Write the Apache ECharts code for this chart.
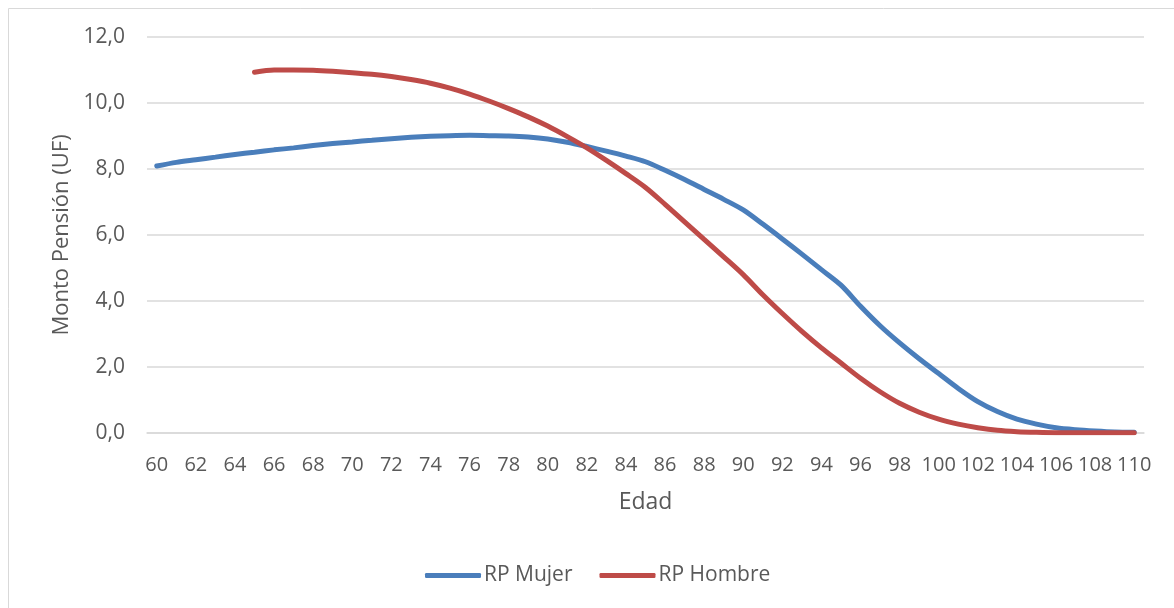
<!DOCTYPE html>
<html>
<head>
<meta charset="utf-8">
<script src="https://cdn.jsdelivr.net/npm/echarts@6/dist/echarts.min.js"></script>
<style>
  html, body { margin: 0; padding: 0; background: #fff; }
  #chart { width: 1174px; height: 608px; }
</style>
</head>
<body>
<div id="chart"></div>
<script>
// edades 60..110
var edades = [];
for (var e = 60; e <= 110; e++) edades.push(String(e));

var rpMujer = [
  8.09, 8.20, 8.28, 8.36, 8.44, 8.51, 8.58, 8.64, 8.71, 8.77,
  8.82, 8.87, 8.92, 8.96, 8.99, 9.01, 9.02, 9.01, 9.00, 8.97,
  8.91, 8.81, 8.68, 8.54, 8.39, 8.22, 7.96, 7.68, 7.38, 7.08,
  6.76, 6.33, 5.88, 5.42, 4.95, 4.48, 3.84, 3.25, 2.73, 2.25,
  1.80, 1.35, 0.95, 0.65, 0.42, 0.27, 0.16, 0.10, 0.06, 0.03,
  0.02
];

var rpHombre = [
  null, null, null, null, null, 10.93, 11.00, 11.00, 10.99, 10.96,
  10.92, 10.87, 10.80, 10.71, 10.60, 10.45, 10.27, 10.06, 9.83, 9.58,
  9.30, 8.98, 8.64, 8.26, 7.86, 7.44, 6.93, 6.40, 5.87, 5.34,
  4.80, 4.19, 3.62, 3.08, 2.58, 2.12, 1.66, 1.25, 0.90, 0.63,
  0.42, 0.27, 0.16, 0.08, 0.04, 0.02, 0.01, 0.01, 0.01, 0.01,
  0.01
];

var chart = echarts.init(document.getElementById('chart'));
var fuente = '"Open Sans", sans-serif';
var gris = '#595959';

var option = {
  animation: false,
  textStyle: { fontFamily: fuente },
  graphic: [{
    type: 'rect',
    shape: { x: 8.5, y: 8.5, width: 1180, height: 620 },
    style: { fill: 'none', stroke: '#d9d9d9', lineWidth: 1 },
    silent: true
  }],
  grid: { left: 147, right: 30, top: 37, bottom: 175 },
  legend: {
    bottom: 17,
    left: 420,
    itemWidth: 56,
    itemHeight: 5,
    itemGap: 27,
    icon: 'roundRect',
    textStyle: { color: gris, fontSize: 21, fontFamily: fuente, padding: [0, 0, 0, -2] },
    data: ['RP Mujer', 'RP Hombre']
  },
  xAxis: {
    type: 'category',
    data: edades,
    boundaryGap: true,
    name: 'Edad',
    nameLocation: 'middle',
    nameGap: 58,
    nameTextStyle: { color: gris, fontSize: 23 },
    axisLine: { lineStyle: { color: '#d9d9d9', width: 1.5 } },
    axisTick: { show: false },
    axisLabel: { interval: 1, color: gris, fontSize: 20, margin: 22 }
  },
  yAxis: {
    type: 'value',
    min: 0,
    max: 12,
    interval: 2,
    name: 'Monto Pensión (UF)',
    nameLocation: 'middle',
    nameGap: 74,
    nameTextStyle: { color: gris, fontSize: 22 },
    axisLine: { show: false },
    axisTick: { show: false },
    splitLine: { lineStyle: { color: '#d9d9d9', width: 1.5 } },
    axisLabel: {
      color: gris,
      fontSize: 21,
      margin: 22,
      formatter: function (v) { return v.toFixed(1).replace('.', ','); }
    }
  },
  series: [
    {
      name: 'RP Mujer',
      type: 'line',
      data: rpMujer,
      smooth: 0.3,
      showSymbol: false,
      lineStyle: { color: '#4a7ebb', width: 5, cap: 'round' },
      itemStyle: { color: '#4a7ebb' }
    },
    {
      name: 'RP Hombre',
      type: 'line',
      data: rpHombre,
      smooth: 0.3,
      showSymbol: false,
      lineStyle: { color: '#be4b48', width: 5, cap: 'round' },
      itemStyle: { color: '#be4b48' }
    }
  ]
};

chart.setOption(option);
</script>
</body>
</html>
